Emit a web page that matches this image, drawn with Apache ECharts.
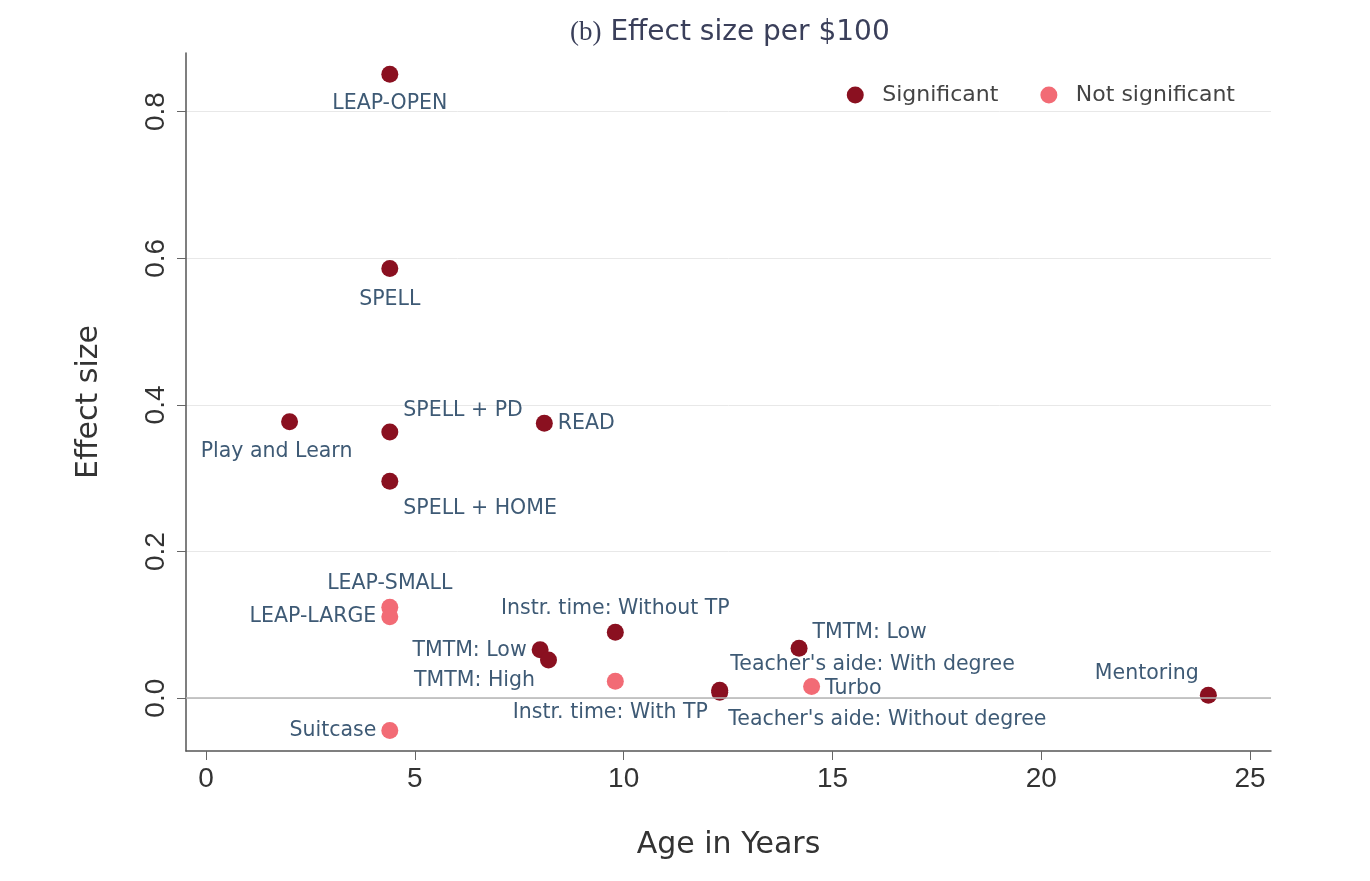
<!DOCTYPE html>
<html>
<head>
<meta charset="utf-8">
<title>Effect size per $100</title>
<script src="https://cdn.jsdelivr.net/npm/echarts@6/dist/echarts.min.js"></script>
<style>
  html, body { margin: 0; padding: 0; background: #fff; }
  #chart { width: 1370px; height: 881px; }
</style>
</head>
<body>
<div id="chart"></div>
<script>
// programme names, age (years) and effect size per $100
const names = [
  'LEAP-OPEN', 'SPELL', 'Play and Learn', 'SPELL + PD', 'READ', 'SPELL + HOME',
  'LEAP-SMALL', 'LEAP-LARGE', 'Instr. time: Without TP', 'TMTM: Low', 'TMTM: High',
  'Instr. time: With TP', "Teacher's aide: With degree", "Teacher's aide: Without degree",
  'TMTM: Low', 'Turbo', 'Suitcase', 'Mentoring'
];
const ages = [4.4, 4.4, 2.0, 4.4, 8.1, 4.4, 4.4, 4.4, 9.8, 8.0, 8.2, 9.8, 12.3, 12.3, 14.2, 14.5, 4.4, 24.0];
const effects = [0.851, 0.586, 0.377, 0.363, 0.375, 0.296, 0.124, 0.111, 0.090, 0.066, 0.052, 0.023, 0.011, 0.008, 0.068, 0.016, -0.044, 0.004];
const significant = [1, 1, 1, 1, 1, 1, 0, 0, 1, 1, 1, 0, 1, 1, 1, 0, 0, 1];

const xTicks = [0, 5, 10, 15, 20, 25];
const yTicks = [0, 0.2, 0.4, 0.6, 0.8];

const X_MIN = -0.48, X_MAX = 25.5;
const Y_MIN = -0.072, Y_MAX = 0.88;

// where each label sits relative to its dot (style only)
const labelPlace = [
  ['bottom', [0, 5]], ['bottom', [0, 7]], ['bottom', [-13, 6]], ['right', [0, -21]],
  ['right', [0, 0]], ['right', [0, 27]], ['top', [0, 0]], ['left', [0, 0]],
  ['top', [0, 0]], ['left', [0, 1]], ['left', [0, 21]], ['bottom', [-5, 7]],
  ['right', [-3, -25]], ['right', [-5, 27]], ['right', [0, -16]], ['right', [0, 2]],
  ['left', [0, 0]], ['left', [4, -22]]
];

const SIG = '#8a1020';
const NOTSIG = '#f26b75';
const LABEL = '#3e5a75';
const FONT = 'DejaVu Sans, Verdana, sans-serif';
const NUMFONT = 'Liberation Sans, Arial, sans-serif';
const TICK = '#666';

function points(flag) {
  const out = [];
  names.forEach(function (n, i) {
    if (significant[i] !== flag) return;
    out.push({
      name: n,
      value: [ages[i], effects[i]],
      label: { position: labelPlace[i][0], offset: labelPlace[i][1] }
    });
  });
  return out;
}

// a thin strip grid whose split lines act as the outward tick marks
function tickAxis(gridIndex, mn, mx, ticks) {
  return {
    type: 'value', gridIndex: gridIndex, min: mn, max: mx,
    axisLine: { show: false, onZero: false },
    axisTick: { show: true, customValues: ticks, length: 0 },
    axisLabel: { show: false },
    splitLine: { show: true, lineStyle: { color: TICK, width: 1 } }
  };
}
function blankAxis(gridIndex) {
  return {
    type: 'value', gridIndex: gridIndex, min: 0, max: 1,
    axisLine: { show: false }, axisTick: { show: false },
    axisLabel: { show: false }, splitLine: { show: false }
  };
}

const chart = echarts.init(document.getElementById('chart'));

const option = {
  backgroundColor: '#ffffff',
  animation: false,
  title: {
    text: '{s|(b)} Effect size per $100',
    left: 565,
    top: 14,
    textStyle: {
      fontFamily: FONT,
      fontSize: 28,
      fontWeight: 'normal',
      color: '#3a3f5a',
      rich: {
        s: { fontFamily: 'Liberation Serif, Times New Roman, serif', fontSize: 27, color: '#3a3f5a' }
      }
    }
  },
  legend: {
    right: 130,
    top: 79,
    itemWidth: 44,
    itemHeight: 17,
    itemGap: 42,
    textStyle: { fontFamily: FONT, fontSize: 22, color: '#444' },
    data: [
      { name: 'Significant', icon: 'circle' },
      { name: 'Not significant', icon: 'circle' }
    ]
  },
  grid: [
    { left: 186, right: 99, top: 53, bottom: 130 },
    { left: 186, right: 99, top: 751, height: 9 },
    { left: 177, width: 9, top: 53, bottom: 130 }
  ],
  xAxis: [
    {
      type: 'value',
      min: X_MIN,
      max: X_MAX,
      name: 'Age in Years',
      nameLocation: 'middle',
      nameGap: 79,
      nameTextStyle: { fontFamily: FONT, fontSize: 30, color: '#333' },
      axisLine: { show: true, onZero: false, lineStyle: { color: '#555', width: 1.5 } },
      axisTick: { show: true, length: 9, customValues: xTicks, lineStyle: { color: TICK } },
      axisLabel: {
        customValues: xTicks,
        fontFamily: NUMFONT, fontSize: 28, color: '#333', margin: 14
      },
      splitLine: { show: false }
    },
    tickAxis(1, X_MIN, X_MAX, xTicks),
    blankAxis(2)
  ],
  yAxis: [
    {
      type: 'value',
      min: Y_MIN,
      max: Y_MAX,
      name: 'Effect size',
      nameLocation: 'middle',
      nameGap: 82,
      nameTextStyle: { fontFamily: FONT, fontSize: 30, color: '#333' },
      axisLine: { show: true, onZero: false, lineStyle: { color: '#555', width: 1.5 } },
      axisTick: { show: true, length: 9, customValues: yTicks, lineStyle: { color: TICK } },
      axisLabel: {
        customValues: yTicks,
        rotate: 90,
        fontFamily: NUMFONT, fontSize: 28, color: '#333', margin: 16,
        formatter: function (v) { return v.toFixed(1); }
      },
      splitLine: { show: true, lineStyle: { color: '#e8e8e8', width: 1 } }
    },
    blankAxis(1),
    tickAxis(2, Y_MIN, Y_MAX, yTicks)
  ],
  series: [
    {
      name: 'Significant',
      type: 'scatter',
      symbolSize: 17,
      itemStyle: { color: SIG, opacity: 1 },
      label: {
        show: true,
        formatter: '{b}',
        distance: 5,
        fontFamily: FONT,
        fontSize: 20.5,
        color: LABEL
      },
      markLine: {
        silent: true,
        symbol: 'none',
        label: { show: false },
        lineStyle: { color: '#b5b5b5', type: 'solid', width: 1.5 },
        data: [{ yAxis: 0 }]
      },
      data: points(1)
    },
    {
      name: 'Not significant',
      type: 'scatter',
      symbolSize: 17,
      itemStyle: { color: NOTSIG, opacity: 1 },
      label: {
        show: true,
        formatter: '{b}',
        distance: 5,
        fontFamily: FONT,
        fontSize: 20.5,
        color: LABEL
      },
      data: points(0)
    }
  ]
};

chart.setOption(option);
</script>
</body>
</html>
